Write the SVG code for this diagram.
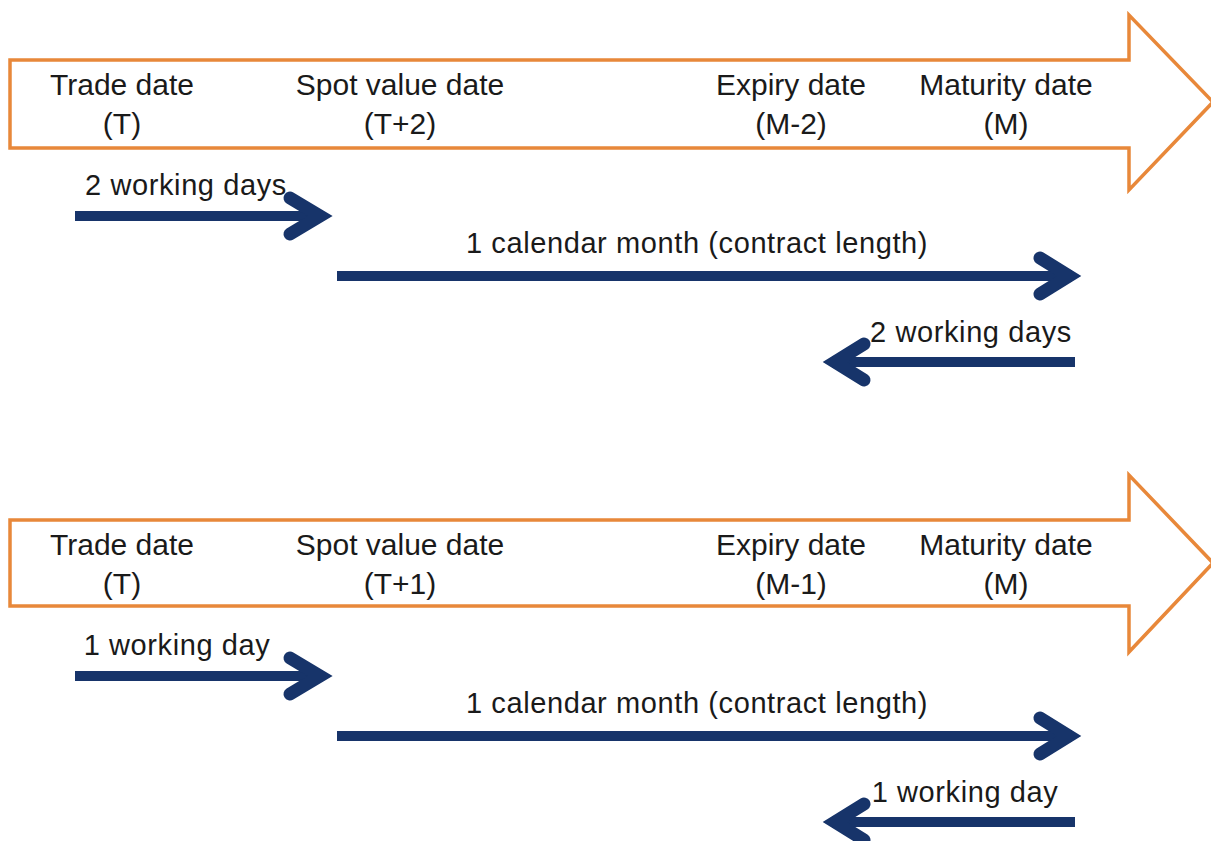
<svg xmlns="http://www.w3.org/2000/svg" width="1211" height="841" viewBox="0 0 1211 841">
<style>
.band{fill:#fff;stroke:#E8883A;stroke-width:3.5;stroke-linejoin:miter}
.t{font-family:"Liberation Sans",Arial,sans-serif;font-size:30px;fill:#1a1a1a;text-anchor:middle}
.l{font-family:"Liberation Sans",Arial,sans-serif;font-size:29px;letter-spacing:0.6px;fill:#1a1a1a;text-anchor:middle}
.shaft{stroke:#17346A;stroke-width:10;fill:none}
.head{stroke:#17346A;stroke-width:13;fill:none;stroke-linecap:round;stroke-linejoin:miter}
</style>
<rect width="1211" height="841" fill="#fff"/>
<g id="timeline1">
<polygon class="band" points="10,60 1129,60 1129,15 1213,102 1129,190 1129,148 10,148"/>
</g>
<g id="trade1"><text class="t" x="122" y="95">Trade date</text><text class="t" x="122" y="134">(T)</text></g>
<g id="spot1"><text class="t" x="400" y="95">Spot value date</text><text class="t" x="400" y="134">(T+2)</text></g>
<g id="expiry1"><text class="t" x="791" y="95">Expiry date</text><text class="t" x="791" y="134">(M-2)</text></g>
<g id="maturity1"><text class="t" x="1006" y="95">Maturity date</text><text class="t" x="1006" y="134">(M)</text></g>
<g id="timeline2">
<polygon class="band" points="10,520 1129,520 1129,475 1213,563 1129,652 1129,606 10,606"/>
</g>
<g id="trade2"><text class="t" x="122" y="555">Trade date</text><text class="t" x="122" y="594">(T)</text></g>
<g id="spot2"><text class="t" x="400" y="555">Spot value date</text><text class="t" x="400" y="594">(T+1)</text></g>
<g id="expiry2"><text class="t" x="791" y="555">Expiry date</text><text class="t" x="791" y="594">(M-1)</text></g>
<g id="maturity2"><text class="t" x="1006" y="555">Maturity date</text><text class="t" x="1006" y="594">(M)</text></g>
<g id="connectors">
<line class="shaft" x1="75" y1="216" x2="318" y2="216"/>
<polyline class="head" points="290,198 320,216 290,234"/>
<line class="shaft" x1="337" y1="276" x2="1066" y2="276"/>
<polyline class="head" points="1040,258 1069,276 1040,294"/>
<line class="shaft" x1="1075" y1="362" x2="837" y2="362"/>
<polyline class="head" points="864,344 835,362 864,380"/>
<line class="shaft" x1="75" y1="676" x2="318" y2="676"/>
<polyline class="head" points="290,658 320,676 290,694"/>
<line class="shaft" x1="337" y1="736" x2="1066" y2="736"/>
<polyline class="head" points="1040,718 1069,736 1040,754"/>
<line class="shaft" x1="1075" y1="822" x2="837" y2="822"/>
<polyline class="head" points="864,804 835,822 864,840"/>
</g>
<g id="labels">
<text class="l" x="186" y="195">2 working days</text>
<text class="l" x="697" y="253">1 calendar month (contract length)</text>
<text class="l" x="971" y="342">2 working days</text>
<text class="l" x="177" y="655">1 working day</text>
<text class="l" x="697" y="713">1 calendar month (contract length)</text>
<text class="l" x="965" y="802">1 working day</text>
</g>
</svg>
